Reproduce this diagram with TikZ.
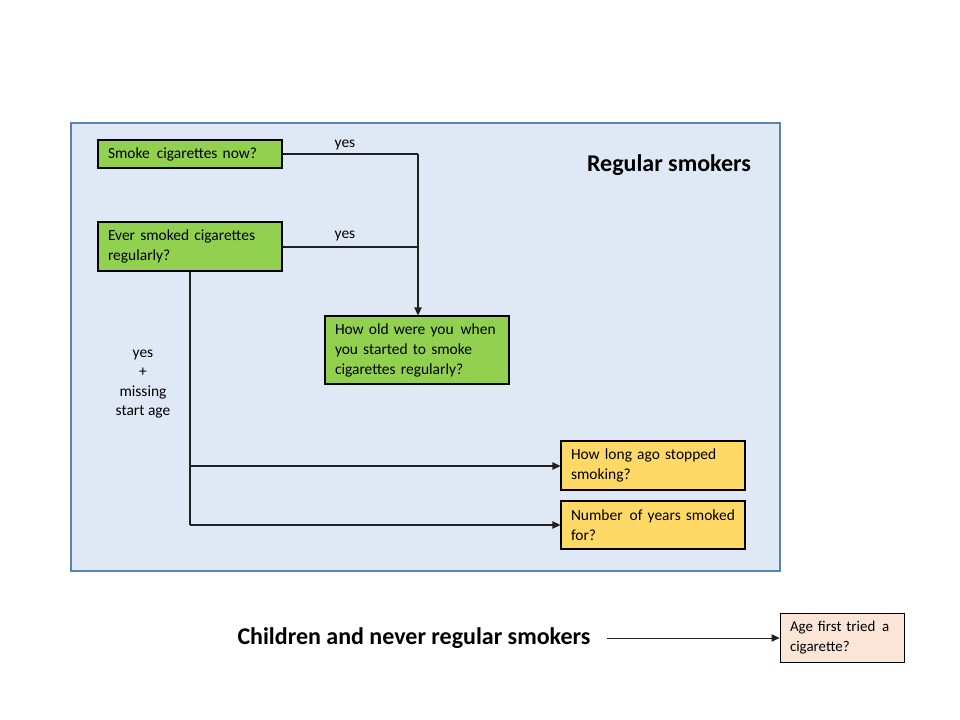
\documentclass[tikz,border=0pt]{standalone}
\usepackage{fontspec}
\setmainfont{Carlito}
\usetikzlibrary{arrows.meta}
\definecolor{panelfill}{HTML}{DEE9F5}
\definecolor{paneledge}{HTML}{5A82B4}
\definecolor{qgreen}{HTML}{92D050}
\definecolor{qyellow}{HTML}{FFD966}
\definecolor{qpeach}{HTML}{FBE5D6}
\definecolor{wire}{HTML}{202020}
\tikzset{
  qbox/.style={draw=black, line width=0.8pt, inner xsep=7.5pt, inner ysep=0pt,
    font=\fontsize{11.6}{15}\selectfont, align=left},
  wirel/.style={draw=wire, line width=0.9pt},
  arr/.style={wirel, -{Triangle[length=6pt,width=5.5pt]}},
  lbl/.style={font=\fontsize{11.6}{15}\selectfont, align=center, inner sep=0pt},
  bigt/.style={font=\fontsize{18}{21}\selectfont\bfseries, anchor=center, inner sep=0pt},
}
\newcommand{\dsp}{\hspace{0.45em}}
\newcommand{\tline}[1]{\mbox{#1}}
\begin{document}
\begin{tikzpicture}[x=0.75pt,y=-0.75pt]
\useasboundingbox (0,0) rectangle (960,720);
% panel
\draw[fill=panelfill, draw=paneledge, line width=0.8pt] (71,123) rectangle (780,571);
\node[bigt] (title) at (669,165) {Regular smokers};

% boxes
\node[qbox, fill=qgreen, minimum width=184*0.75pt, minimum height=28*0.75pt, text width=164*0.75pt] (b1) at (190,154) {\tline{Smoke\dsp cigarettes now?}};
\node[qbox, fill=qgreen, minimum width=184*0.75pt, minimum height=49*0.75pt, text width=164*0.75pt] (b2) at (190,246.5) {\tline{Ever smoked cigarettes}\\\tline{regularly?}};
\node[qbox, fill=qgreen, minimum width=184*0.75pt, minimum height=68*0.75pt, text width=164*0.75pt] (b3) at (417,350) {\tline{How old were you\dsp when}\\\tline{you started to smoke}\\\tline{cigarettes regularly?}};
\node[qbox, fill=qyellow, minimum width=184*0.75pt, minimum height=49*0.75pt, text width=164*0.75pt] (b4) at (653,465.5) {\tline{How long ago stopped}\\\tline{smoking?}};
\node[qbox, fill=qyellow, minimum width=184*0.75pt, minimum height=48*0.75pt, text width=164*0.75pt] (b5) at (653,525) {\tline{Number\dsp of years smoked}\\\tline{for?}};
\node[qbox, fill=qpeach, minimum width=124*0.75pt, minimum height=49*0.75pt, text width=104*0.75pt, line width=0.6pt, font=\fontsize{11.2}{15}\selectfont] (b6) at (842,637.5) {\tline{Age first tried\dsp a}\\\tline{cigarette?}};

\node[bigt] (kids) at (414,638) {Children and never regular smokers};

% connectors
\coordinate (j1) at (418,154);
\coordinate (j2) at (418,247);
\draw[wirel] (b1.east) -- (j1);
\draw[wirel] (b2.east |- j2) -- (j2);
\draw[arr] (j1) -- (j1 |- b3.north);
\node[lbl] (y1) at (345,145) {yes};
\node[lbl] (y2) at (345,236) {yes};

\coordinate (d1) at (190,466);
\coordinate (d2) at (190,525);
\draw[wirel] (b2.south) -- (d2);
\draw[arr] (d1) -- (b4.west |- d1);
\draw[arr] (d2) -- (b5.west |- d2);
\node[lbl, font=\fontsize{11.6}{14.4}\selectfont] (ym) at (143,384) {yes\\+\\missing\\start age};

\coordinate (k1) at (607,638);
\draw[arr, line width=0.7pt] (k1) -- (b6.west |- k1);
\end{tikzpicture}
\end{document}
